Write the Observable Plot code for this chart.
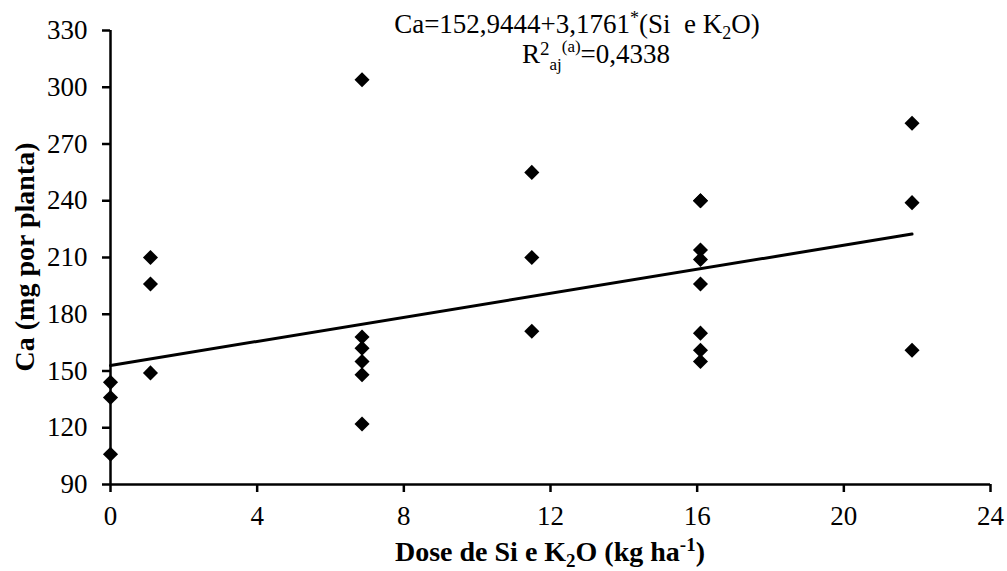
<!DOCTYPE html>
<html>
<head>
<meta charset="utf-8">
<script src="https://cdn.jsdelivr.net/npm/d3@7"></script>
<script src="https://cdn.jsdelivr.net/npm/@observablehq/plot@0.6"></script>
<style>
  html, body { margin: 0; padding: 0; background: #fff; }
  #chart { width: 1007px; height: 571px; }
</style>
</head>
<body>
<div id="chart"></div>
<script>
// Data
const dose = [0, 0, 0,
              1.09, 1.09, 1.09,
              6.86, 6.86, 6.86, 6.86, 6.86, 6.86,
              11.49, 11.49, 11.49,
              16.09, 16.09, 16.09, 16.09, 16.09, 16.09, 16.09, 16.09,
              21.86, 21.86, 21.86];
const ca = [144, 136, 106,
            210, 196, 149,
            304, 168, 162, 155, 148, 122,
            255, 210, 171,
            240, 240, 214, 209, 196, 170, 161, 155,
            281, 239, 161];
const yTicks = [90, 120, 150, 180, 210, 240, 270, 300, 330];
const xTicks = [0, 4, 8, 12, 16, 20, 24];
const fitCoef = [152.9444, 3.1761]; // intercept, slope from the chart's equation

const points = dose.map((d, i) => ({dose: d, ca: ca[i]}));
const xMax = d3.max(dose);
const fitLine = [0, xMax].map(x => ({dose: x, ca: fitCoef[0] + fitCoef[1] * x}));

const serif = "'Liberation Serif', 'Times New Roman', serif";

const chart = Plot.plot({
  width: 1007,
  height: 571,
  marginLeft: 110,
  marginRight: 17,
  marginTop: 30,
  marginBottom: 87,
  style: {fontFamily: serif, fontSize: "27px", color: "#000", background: "#fff"},
  x: {domain: [0, 24], label: null},
  y: {domain: [90, 330], label: null},
  marks: [
    Plot.axisY({ticks: yTicks, tickSize: 8, tickPadding: 15, strokeWidth: 2.5, label: null}),
    Plot.axisX({ticks: xTicks, tickSize: 8, tickPadding: 13, strokeWidth: 2.5, label: null}),
    Plot.ruleX([0], {stroke: "#000", strokeWidth: 2.5}),
    Plot.ruleY([90], {stroke: "#000", strokeWidth: 2.5}),
    Plot.line(fitLine, {x: "dose", y: "ca", stroke: "#000", strokeWidth: 3}),
    Plot.dot(points, {x: "dose", y: "ca", symbol: "diamond2", r: 6.8, fill: "#000", stroke: "none"})
  ]
});

document.getElementById("chart").appendChild(chart);

const svg = d3.select(chart);

// Equation line 1
const t1 = svg.append("text").attr("x", 577).attr("y", 33).attr("text-anchor", "middle")
  .attr("font-family", serif).attr("font-size", 27).attr("fill", "#000");
t1.append("tspan").text("Ca=152,9444+3,1761");
t1.append("tspan").attr("dy", -9).attr("font-size", 18).text("*");
t1.append("tspan").attr("dy", 9).text("(Si\u00A0 e K");
t1.append("tspan").attr("dy", 6).attr("font-size", 18).text("2");
t1.append("tspan").attr("dy", -6).text("O)");

// Equation line 2
const t2 = svg.append("text").attr("x", 596).attr("y", 63).attr("text-anchor", "middle")
  .attr("font-family", serif).attr("font-size", 27).attr("fill", "#000");
t2.append("tspan").text("R");
t2.append("tspan").attr("dy", -8).attr("font-size", 19).text("2");
t2.append("tspan").attr("dy", 15).attr("font-size", 17).text("aj");
t2.append("tspan").attr("dy", -18).attr("font-size", 17).text("(a)");
t2.append("tspan").attr("dy", 11).text("=0,4338");

// Y-axis title
svg.append("text").attr("transform", "translate(34,257) rotate(-90)")
  .attr("text-anchor", "middle").attr("font-family", serif).attr("font-size", 28)
  .attr("font-weight", "bold").attr("fill", "#000").text("Ca (mg por planta)");

// X-axis title
const xl = svg.append("text").attr("x", 550).attr("y", 561).attr("text-anchor", "middle")
  .attr("font-family", serif).attr("font-size", 28).attr("font-weight", "bold").attr("fill", "#000");
xl.append("tspan").text("Dose de Si e K");
xl.append("tspan").attr("dy", 6).attr("font-size", 19).text("2");
xl.append("tspan").attr("dy", -6).text("O (kg ha");
xl.append("tspan").attr("dy", -10).attr("font-size", 19).text("-1");
xl.append("tspan").attr("dy", 10).text(")");
</script>
</body>
</html>
